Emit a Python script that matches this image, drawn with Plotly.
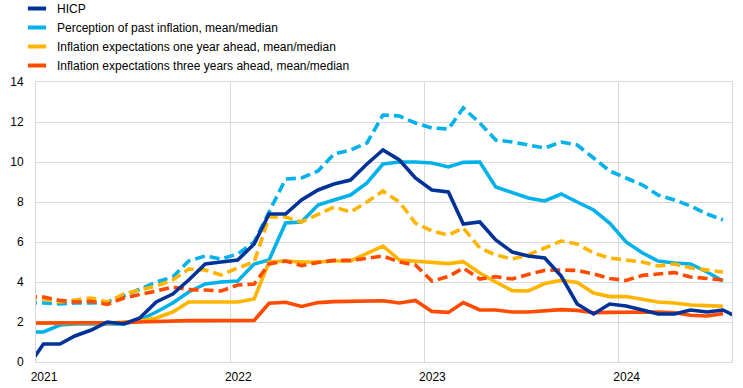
import pandas as pd
import plotly.graph_objects as go

# Monthly observations, Dec 2020 onwards (plotted at mid-month)
hicp = [-0.3,
        0.9, 0.9, 1.3, 1.6, 2.0, 1.9, 2.2, 3.0, 3.4, 4.1, 4.9, 5.0,
        5.1, 5.9, 7.4, 7.4, 8.1, 8.6, 8.9, 9.1, 9.9, 10.6, 10.1, 9.2,
        8.6, 8.5, 6.9, 7.0, 6.1, 5.5, 5.3, 5.2, 4.3, 2.9, 2.4, 2.9,
        2.8, 2.6, 2.4, 2.4, 2.6, 2.5, 2.6, 2.2]

perc_mean = [2.95,
             2.95, 2.9, 2.95, 2.95, 3.0, 3.3, 3.65, 4.0, 4.25, 5.05, 5.3, 5.15,
             5.4, 6.0, 7.5, 9.15, 9.2, 9.55, 10.4, 10.6, 10.95, 12.35, 12.3, 11.95,
             11.7, 11.65, 12.7, 11.95, 11.1, 11.0, 10.85, 10.7, 11.0, 10.85, 10.2, 9.55,
             9.2, 8.85, 8.35, 8.1, 7.8, 7.4, 7.1]
perc_median = [1.5,
               1.5, 1.85, 1.9, 1.9, 1.9, 1.9, 2.1, 2.5, 2.95, 3.5, 3.9, 4.0,
               4.05, 4.9, 5.1, 6.95, 7.0, 7.85, 8.1, 8.35, 8.95, 9.9, 10.0, 10.0,
               9.95, 9.75, 9.98, 10.0, 8.75, 8.45, 8.2, 8.05, 8.4, 8.0, 7.6, 6.95,
               6.0, 5.45, 5.05, 4.95, 4.9, 4.5, 4.05]
exp1_mean = [3.2,
             3.15, 3.0, 3.1, 3.2, 3.0, 3.4, 3.6, 3.8, 4.1, 4.65, 4.6, 4.35,
             4.7, 5.0, 7.25, 7.25, 7.0, 7.4, 7.75, 7.5, 8.0, 8.55, 8.0, 6.95,
             6.55, 6.35, 6.7, 5.7, 5.35, 5.15, 5.35, 5.7, 6.05, 5.9, 5.45, 5.2,
             5.1, 5.0, 4.8, 4.9, 4.7, 4.6, 4.5]
exp1_median = [1.95,
               1.95, 1.95, 1.95, 1.95, 1.95, 2.0, 2.05, 2.2, 2.5, 3.0, 3.0, 3.0,
               3.0, 3.15, 5.0, 5.05, 5.0, 5.0, 5.05, 5.05, 5.45, 5.8, 5.1, 5.05,
               5.0, 4.92, 5.02, 4.45, 4.0, 3.57, 3.55, 3.92, 4.08, 3.98, 3.45, 3.27,
               3.27, 3.15, 3.0, 2.95, 2.85, 2.82, 2.78]
exp3_mean = [3.27,
             3.25, 3.08, 3.0, 3.03, 2.88, 3.2, 3.35, 3.55, 3.75, 3.62, 3.6, 3.55,
             3.85, 3.9, 4.9, 5.05, 4.82, 4.98, 5.08, 5.08, 5.18, 5.3, 5.0, 4.85,
             4.05, 4.27, 4.7, 4.15, 4.27, 4.15, 4.38, 4.58, 4.6, 4.58, 4.4, 4.17,
             4.08, 4.33, 4.4, 4.47, 4.25, 4.18, 4.1]
exp3_median = [1.95,
               1.95, 1.95, 1.95, 1.95, 1.95, 1.97, 2.0, 2.03, 2.05, 2.07, 2.07, 2.07,
               2.08, 2.08, 2.94, 2.99, 2.78, 2.97, 3.02, 3.02, 3.02, 3.06, 2.95, 3.08,
               2.53, 2.48, 2.97, 2.6, 2.6, 2.5, 2.5, 2.57, 2.62, 2.58, 2.46, 2.48,
               2.5, 2.52, 2.5, 2.46, 2.34, 2.3, 2.42]

legend_names = ["HICP",
                "Perception of past inflation, mean/median",
                "Inflation expectations one year ahead, mean/median",
                "Inflation expectations three years ahead, mean/median"]
year_ticks = ["2021-01-01", "2022-01-01", "2023-01-01", "2024-01-01"]
year_labels = ["2021", "2022", "2023", "2024"]

DARK_BLUE = "#003299"
LIGHT_BLUE = "#00B1EA"
YELLOW = "#FFB400"
ORANGE = "#FF4B00"

dates_hicp = list(pd.date_range("2020-12-01", periods=len(hicp), freq="MS") + pd.Timedelta(days=14))
dates_srv = dates_hicp[:len(perc_mean)]

fig = go.Figure()
LW = 3.6
DASH = "10px,5px"

series = [
    (perc_median, LIGHT_BLUE, "solid"),
    (perc_mean, LIGHT_BLUE, DASH),
    (exp1_median, YELLOW, "solid"),
    (exp1_mean, YELLOW, DASH),
    (exp3_median, ORANGE, "solid"),
    (exp3_mean, ORANGE, DASH),
]
for vals, col, dash in series:
    fig.add_trace(go.Scatter(x=dates_srv, y=vals, mode="lines", showlegend=False,
                             line=dict(color=col, width=LW, dash=dash), hoverinfo="skip"))
fig.add_trace(go.Scatter(x=dates_hicp, y=hicp, mode="lines", showlegend=False,
                         line=dict(color=DARK_BLUE, width=LW), hoverinfo="skip"))

# legend entries
for name, col in zip(legend_names, [DARK_BLUE, LIGHT_BLUE, YELLOW, ORANGE]):
    fig.add_trace(go.Scatter(x=[None], y=[None], mode="markers", name=name,
                             marker=dict(symbol="line-ew-open", size=13, color=col,
                                         line=dict(width=4, color=col))))

W, H = 743, 388
ml, mr, mt, mb = 36, 11, 82, 26
pw, ph = W - ml - mr, H - mt - mb

fig.update_layout(
    width=W, height=H,
    margin=dict(l=ml, r=mr, t=mt, b=mb, pad=0, autoexpand=False),
    paper_bgcolor="white", plot_bgcolor="white",
    font=dict(family="Arial, Liberation Sans, sans-serif", size=12, color="#000000"),
    legend=dict(x=(17 - ml) / pw, y=1 + (mt + 6) / ph, xanchor="left", yanchor="top",
                bgcolor="rgba(0,0,0,0)", font=dict(size=12), itemwidth=30,
                tracegroupgap=0),
    xaxis=dict(type="date", range=["2021-01-01", "2024-08-01"],
               tickvals=year_ticks, ticktext=year_labels,
               showgrid=True, gridcolor="#d9d9d9", gridwidth=1,
               showline=True, linecolor="#d9d9d9", linewidth=1, mirror=True,
               ticks="", ticklabelshift=8, ticklabelstandoff=4, zeroline=False),
    yaxis=dict(range=[0, 14], tickvals=[0, 2, 4, 6, 8, 10, 12, 14],
               showgrid=True, gridcolor="#d9d9d9", gridwidth=1,
               showline=True, linecolor="#d9d9d9", linewidth=1, mirror=True,
               ticks="", ticklabelstandoff=9, zeroline=False),
)

fig.write_html("out.html", config={"displayModeBar": False},
               post_script="document.body.style.margin='0';")
